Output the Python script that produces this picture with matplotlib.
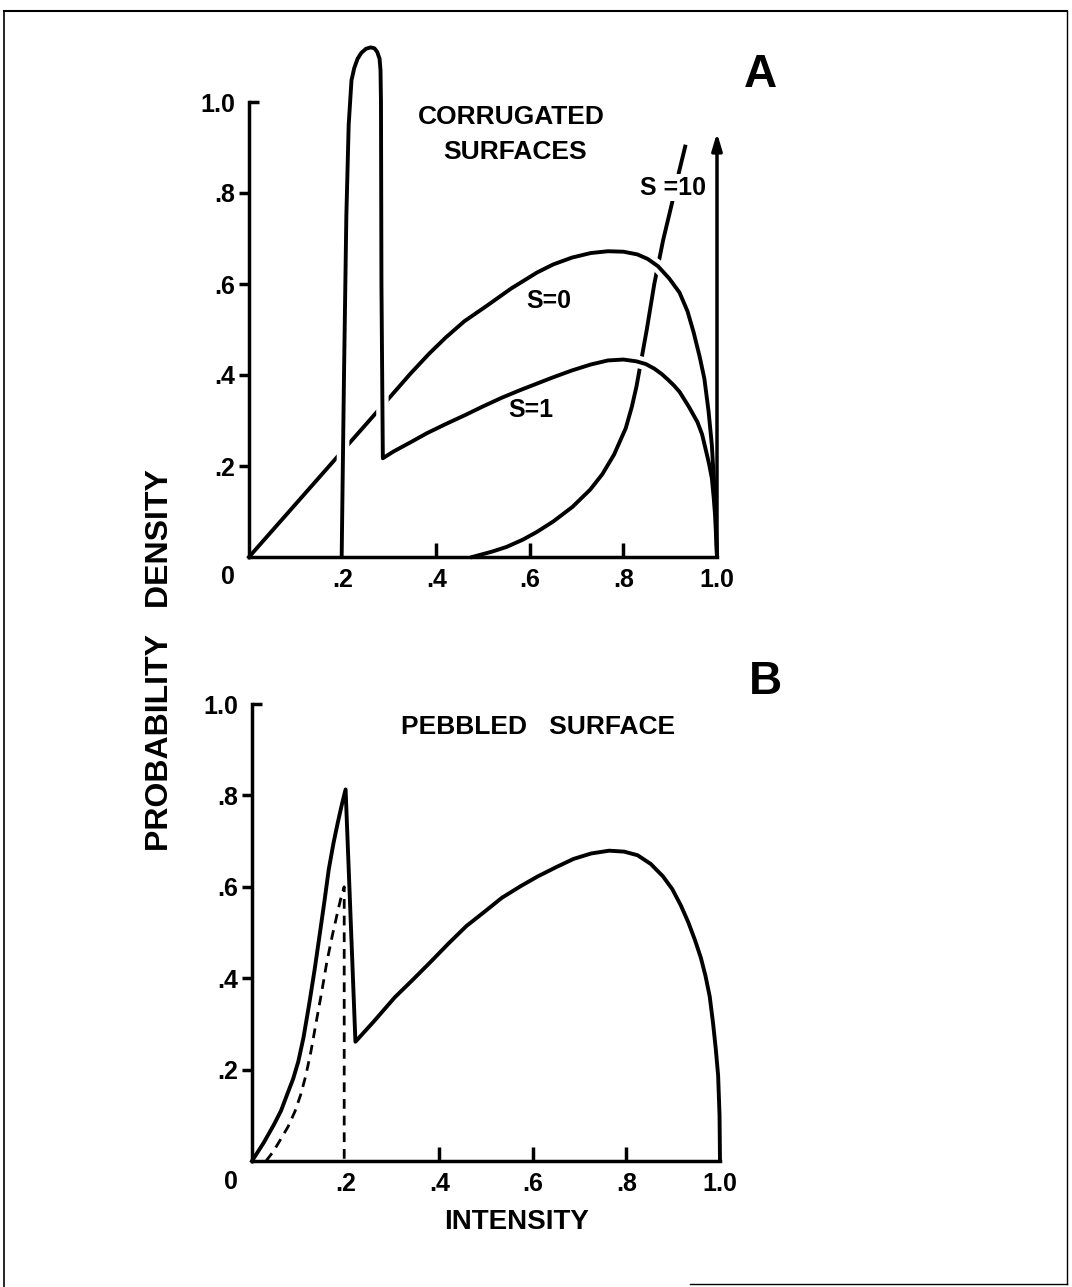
import numpy as np
import matplotlib
matplotlib.use("Agg")
import matplotlib.pyplot as plt
import matplotlib.lines as mlines

plt.rcParams['font.family'] = ['Liberation Sans', 'DejaVu Sans']
plt.rcParams['font.weight'] = 'bold'

# ---- panel A: corrugated surfaces ----
s0_x = [0.0, 0.30, 0.345, 0.385, 0.42, 0.46, 0.508, 0.56, 0.615, 0.65, 0.69, 0.73,
        0.767, 0.80, 0.83, 0.852, 0.874, 0.898, 0.92, 0.937, 0.95, 0.963, 0.973, 0.982,
        0.989, 0.995, 0.998, 1.0]
s0_y = [0.0, 0.35, 0.403, 0.447, 0.482, 0.518, 0.552, 0.59, 0.625, 0.643, 0.658, 0.668,
        0.672, 0.671, 0.665, 0.655, 0.639, 0.612, 0.581, 0.54, 0.494, 0.44, 0.392, 0.32,
        0.246, 0.14, 0.07, 0.0]

s1_x = [0.198, 0.203, 0.208, 0.213, 0.219, 0.225, 0.232, 0.24, 0.25, 0.26, 0.268, 0.274,
        0.279, 0.281, 0.282, 0.283, 0.286, 0.309, 0.345, 0.38, 0.42, 0.462, 0.50, 0.54,
        0.58, 0.615, 0.65, 0.69, 0.73, 0.767, 0.80, 0.828, 0.848, 0.866, 0.882, 0.895,
        0.908, 0.92, 0.94, 0.958, 0.968, 0.975, 0.983, 0.989, 0.993, 0.996, 1.0]
s1_y = [0.0, 0.4, 0.75, 0.95, 1.048, 1.075, 1.095, 1.108, 1.117, 1.12, 1.118, 1.11,
        1.095, 1.07, 1.0, 0.6, 0.217, 0.232, 0.252, 0.272, 0.292, 0.312, 0.331, 0.35,
        0.367, 0.381, 0.395, 0.41, 0.423, 0.432, 0.434, 0.43, 0.424, 0.414, 0.402, 0.39,
        0.377, 0.363, 0.33, 0.297, 0.27, 0.24, 0.205, 0.173, 0.13, 0.09, 0.0]

s10_x = [0.477, 0.52, 0.55, 0.585, 0.615, 0.65, 0.691, 0.729, 0.755, 0.78, 0.805, 0.818,
         0.828, 0.85, 0.866, 0.885, 0.903, 0.919, 0.932]
s10_y = [0.0, 0.012, 0.022, 0.038, 0.055, 0.078, 0.11, 0.148, 0.182, 0.225, 0.283, 0.33,
         0.375, 0.50, 0.60, 0.697, 0.774, 0.847, 0.902]
s10_spike = (1.0, 0.932)   # delta at intensity 1

# ---- panel B: pebbled surface ----
pb_x = [0.0, 0.025, 0.046, 0.062, 0.076, 0.088, 0.099, 0.11, 0.122, 0.134, 0.145, 0.155,
        0.164, 0.174, 0.183, 0.192, 0.2, 0.221, 0.26, 0.305, 0.345, 0.382, 0.42, 0.458,
        0.50, 0.534, 0.575, 0.611, 0.65, 0.687, 0.725, 0.763, 0.795, 0.824, 0.852, 0.878,
        0.898, 0.916, 0.932, 0.947, 0.959, 0.969, 0.978, 0.985, 0.991, 0.996, 0.999, 1.0]
pb_y = [0.0, 0.04, 0.078, 0.11, 0.148, 0.18, 0.218, 0.27, 0.342, 0.42, 0.498, 0.57,
        0.638, 0.695, 0.739, 0.78, 0.813, 0.261, 0.305, 0.358, 0.398, 0.436, 0.476, 0.514,
        0.548, 0.576, 0.602, 0.623, 0.643, 0.661, 0.673, 0.679, 0.677, 0.669, 0.65, 0.623,
        0.595, 0.56, 0.523, 0.482, 0.445, 0.405, 0.36, 0.303, 0.245, 0.187, 0.1, 0.0]

pd_x = [0.03, 0.045, 0.061, 0.077, 0.092, 0.104, 0.115, 0.126, 0.137, 0.149, 0.160,
        0.172, 0.183, 0.191, 0.197, 0.197]
pd_y = [0.0, 0.02, 0.047, 0.075, 0.109, 0.145, 0.187, 0.24, 0.303, 0.37, 0.436,
        0.495, 0.545, 0.58, 0.60, 0.0]

xticks = [0.2, 0.4, 0.6, 0.8, 1.0]
xlabels = ['.2', '.4', '.6', '.8', '1.0']
yticks = [0.2, 0.4, 0.6, 0.8, 1.0]
ylabels = ['.2', '.4', '.6', '.8', '1.0']

W, H = 1072, 1287
fig = plt.figure(figsize=(W / 100, H / 100), dpi=100)
fig.patch.set_facecolor('white')


def setup(ax):
    ax.set_xlim(0, 1)
    ax.set_ylim(0, 1)
    for s in ['top', 'right']:
        ax.spines[s].set_visible(False)
    for s in ['left', 'bottom']:
        ax.spines[s].set_linewidth(2.5)
        ax.spines[s].set_zorder(6)
    ax.set_xticks(xticks, xlabels)
    ax.set_yticks(yticks, ylabels)
    ax.tick_params(axis='x', direction='in', length=10, width=2.5, pad=8, labelsize=18)
    ax.tick_params(axis='y', direction='out', length=7, width=2.5, pad=3, labelsize=18)
    xt = ax.xaxis.get_major_ticks()
    xt[0].tick1line.set_visible(False)
    xt[-1].tick1line.set_visible(False)
    ax.yaxis.get_major_ticks()[-1].tick1line.set_marker(mlines.TICKRIGHT)
    ax.text(-0.045, -0.045, '0', fontsize=18, ha='center', va='center',
            transform=ax.transData, clip_on=False)
    ax.patch.set_alpha(0)


# panel A
axA = fig.add_axes([249 / W, 1 - 557 / H, 468 / W, 455 / H])
setup(axA)
axA.plot(s10_x, s10_y, color='k', lw=2.8, clip_on=False, zorder=2)
x0 = np.array(s0_x); y0 = np.array(s0_y)
m0 = (x0 > 0.5) & (x0 < 0.93)
axA.plot(x0[m0], y0[m0], color='white', lw=9, clip_on=False, zorder=2.5,
         solid_capstyle='butt')
axA.plot(s0_x, s0_y, color='k', lw=2.8, clip_on=False, zorder=3)
x1 = np.array(s1_x); y1 = np.array(s1_y)
m1 = (x1 < 0.93)
axA.plot(x1[m1], y1[m1], color='white', lw=9, clip_on=False, zorder=3.5,
         solid_capstyle='butt')
axA.plot(s1_x, s1_y, color='k', lw=2.8, clip_on=False, zorder=4)
axA.annotate('', xy=s10_spike, xytext=(s10_spike[0], 0), xycoords='data',
             arrowprops=dict(arrowstyle='-|>,head_length=1.0,head_width=0.3',
                             lw=2.5, color='k', shrinkA=0, shrinkB=0),
             zorder=7, annotation_clip=False)
axA.text(0.561, 0.967, 'CORRUGATED', fontsize=19, ha='center', va='center')
axA.text(0.569, 0.891, 'SURFACES', fontsize=19, ha='center', va='center')
axA.text(0.641, 0.563, 'S=0', fontsize=18, ha='center', va='center')
axA.text(0.603, 0.323, 'S=1', fontsize=18, ha='center', va='center')
axA.text(0.906, 0.811, 'S =10', fontsize=18, ha='center', va='center', zorder=5,
         bbox=dict(facecolor='white', edgecolor='none', pad=1))

# panel B
axB = fig.add_axes([252 / W, 1 - 1161 / H, 468 / W, 457 / H])
setup(axB)
axB.plot(pb_x, pb_y, color='k', lw=2.8, clip_on=False, zorder=4)
axB.plot(pd_x, pd_y, color='k', lw=2.0, dashes=(3.5, 2.5), clip_on=False, zorder=3)
axB.text(0.611, 0.949, 'PEBBLED   SURFACE', fontsize=19, ha='center', va='center')

fig.text(760 / W, 1 - 75 / H, 'A', fontsize=33, ha='center', va='center')
fig.text(765 / W, 1 - 682 / H, 'B', fontsize=33, ha='center', va='center')
fig.text(160 / W, 1 - 660 / H, 'PROBABILITY   DENSITY', fontsize=23, rotation=90,
         ha='center', va='center')
fig.text(517 / W, 1 - 1222 / H, 'INTENSITY', fontsize=20, ha='center', va='center')

# scanned page frame
fig.add_artist(mlines.Line2D([4 / W, 1067 / W], [1 - 11 / H, 1 - 11 / H],
                             transform=fig.transFigure, color='k', lw=1.5))
fig.add_artist(mlines.Line2D([4 / W, 4 / W], [1 - 11 / H, 0],
                             transform=fig.transFigure, color='k', lw=1.2))
fig.add_artist(mlines.Line2D([1067 / W, 1067 / W], [1 - 11 / H, 1 - 1284 / H],
                             transform=fig.transFigure, color='k', lw=1.0))
fig.add_artist(mlines.Line2D([690 / W, 1067 / W], [1 - 1284 / H, 1 - 1284 / H],
                             transform=fig.transFigure, color='k', lw=1.0))

fig.savefig('out.png', dpi=100)
